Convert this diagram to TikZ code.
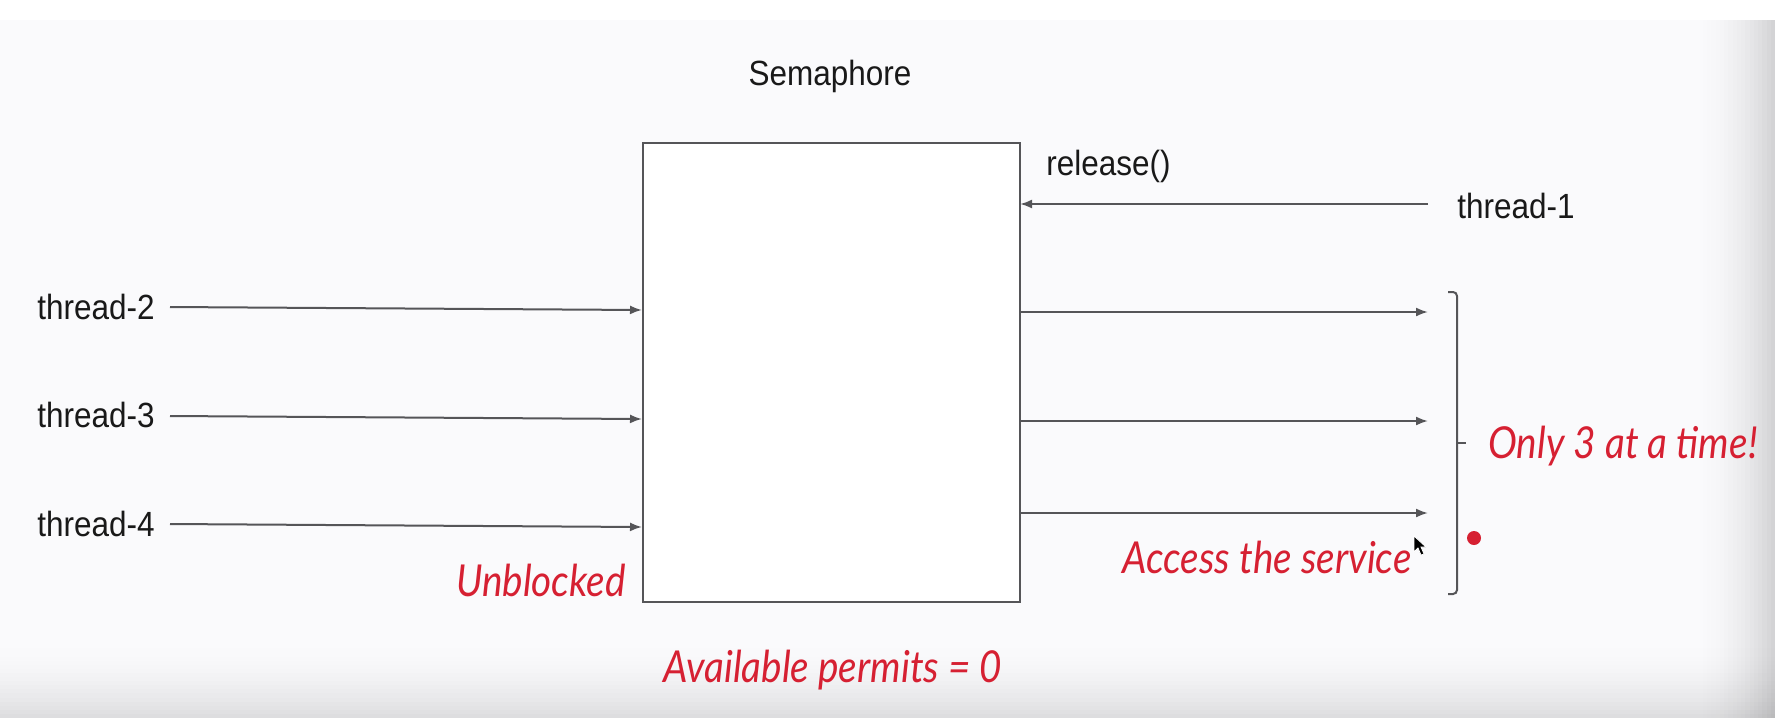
\documentclass[tikz,border=0pt]{standalone}
\usepackage{fontspec}
\usetikzlibrary{arrows.meta}
\newfontfamily\labelfont{Liberation Sans}[FakeStretch=0.9]
\newfontfamily\handfont{Lato}[FakeStretch=0.88]
\definecolor{bgc}{RGB}{250,250,252}
\definecolor{linec}{RGB}{85,85,88}
\definecolor{handred}{RGB}{214,32,50}
\tikzset{
  lbl/.style={font=\labelfont\fontsize{17.5}{20}\selectfont, text=black!90, inner sep=0pt},
  hand/.style={font=\handfont\itshape\fontsize{22}{26}\selectfont, text=handred, inner sep=0pt},
  conn/.style={draw=linec, line width=1pt, -{Latex[length=6pt,width=4.5pt]}},
  semabox/.style={draw=linec, line width=1pt, fill=white, inner sep=0pt},
}
\begin{document}
\begin{tikzpicture}[x=0.5pt,y=-0.5pt]
\useasboundingbox (0,0) rectangle (1781,723);
% background
\fill[white] (0,0) rectangle (1781,723);
\fill[bgc] (0,20) rectangle (1775,718);
\foreach \i in {1,...,19}{
  \pgfmathsetmacro{\op}{0.008*\i*\i/19}
  \fill[black, fill opacity=\op] ({1690+\i*4.25},20) rectangle ({1690+(\i+1)*4.25},718);
}
\foreach \i in {1,...,19}{
  \pgfmathsetmacro{\op}{0.006*\i*\i/19}
  \fill[black, fill opacity=\op] (0,{636+\i*4.1}) rectangle (1775,{636+(\i+1)*4.1});
}
% box
\node[semabox, minimum width=188.5pt, minimum height=229.5pt, anchor=north west] (box) at (642,142) {};
\node[lbl] (sem) at (830,76) {Semaphore};
% thread-1 release
\node[lbl, anchor=west] (t1) at (1457,206) {thread-1};
\node[lbl, anchor=west] (rel) at (1046,166) {release()};
\coordinate (t1s) at (1428,204);
\coordinate (t1e) at (1020,204);
\draw[conn] (t1s) -- (t1e);
% left threads
\node[lbl, anchor=west] (t2) at (37,307) {thread-2};
\node[lbl, anchor=west] (t3) at (37,415) {thread-3};
\node[lbl, anchor=west] (t4) at (37,524) {thread-4};
\coordinate (t2s) at (170,307); \coordinate (t2e) at (642,310);
\coordinate (t3s) at (170,416); \coordinate (t3e) at (642,419);
\coordinate (t4s) at (170,524); \coordinate (t4e) at (642,527);
\draw[conn] (t2s) -- (t2e);
\draw[conn] (t3s) -- (t3e);
\draw[conn] (t4s) -- (t4e);
% right outputs
\coordinate (o1s) at (1019,312); \coordinate (o1e) at (1428,312);
\coordinate (o2s) at (1019,421); \coordinate (o2e) at (1428,421);
\coordinate (o3s) at (1019,513); \coordinate (o3e) at (1428,513);
\draw[conn] (o1s) -- (o1e);
\draw[conn] (o2s) -- (o2e);
\draw[conn] (o3s) -- (o3e);
% bracket
\coordinate (bt) at (1448,292);
\coordinate (bb) at (1448,594);
\coordinate (bm) at (1466,443);
\draw[linec, line width=1pt, rounded corners=2pt] (bt) -- (1457,292) -- (1457,594) -- (bb);
\draw[linec, line width=1pt] (1457,443) -- (bm);
% handwritten annotations
\node[hand, anchor=west] (only) at (1488,446) {Only 3 at a time!};
\node[hand] (acc) at (1267,557) {Access the service};
\node[hand] (unb) at (541,580) {Unblocked};
\node[hand] (avail) at (833,670) {Available permits = 0};
% red dot
\fill[handred] (1474,538) circle (3.5pt);
% mouse cursor
\filldraw[fill=black, draw=white, line width=0.4pt] (1414,536) -- (1414,552) -- (1418,548) -- (1421,555) -- (1424,554) -- (1421,547) -- (1426,547) -- cycle;
\end{tikzpicture}
\end{document}
